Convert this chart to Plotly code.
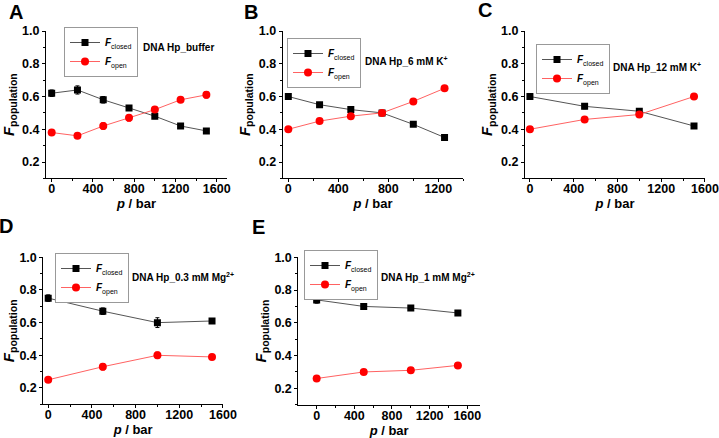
import plotly.graph_objects as go

W, H = 719, 438

# ---------------- data ----------------
p_A = [0, 250, 500, 750, 1000, 1250, 1500]
closed_A = [0.62, 0.64, 0.58, 0.53, 0.48, 0.42, 0.39]
closed_A_err = [0.02, 0.025, 0.02, 0.015, 0.015, 0.01, 0.01]
open_A = [0.38, 0.36, 0.42, 0.47, 0.52, 0.58, 0.61]
open_A_err = [0.01, 0.015, 0.02, 0.02, 0.015, 0.015, 0.02]

p_B = [0, 250, 500, 750, 1000, 1250]
closed_B = [0.60, 0.55, 0.52, 0.50, 0.43, 0.35]
closed_B_err = [0.005, 0.005, 0.005, 0.005, 0.005, 0.005]
open_B = [0.40, 0.45, 0.48, 0.50, 0.57, 0.65]
open_B_err = [0.005, 0.005, 0.005, 0.005, 0.005, 0.005]

p_C = [0, 500, 1000, 1500]
closed_C = [0.60, 0.54, 0.51, 0.42]
closed_C_err = [0.015, 0.015, 0.015, 0.01]
open_C = [0.40, 0.46, 0.49, 0.60]
open_C_err = [0.01, 0.01, 0.01, 0.015]

p_D = [0, 500, 1000, 1500]
closed_D = [0.75, 0.67, 0.60, 0.61]
closed_D_err = [0.02, 0.02, 0.03, 0.015]
open_D = [0.25, 0.33, 0.40, 0.39]
open_D_err = [0.01, 0.02, 0.02, 0.015]

p_E = [0, 500, 1000, 1500]
closed_E = [0.74, 0.70, 0.69, 0.66]
closed_E_err = [0.02, 0.015, 0.015, 0.015]
open_E = [0.26, 0.30, 0.31, 0.34]
open_E_err = [0.01, 0.015, 0.01, 0.015]

panel_letters = ["A", "B", "C", "D", "E"]
panel_titles = ["DNA Hp_buffer", "DNA Hp_6 mM K<sup>+</sup>", "DNA Hp_12 mM K<sup>+</sup>",
                "DNA Hp_0.3 mM Mg<sup>2+</sup>", "DNA Hp_1 mM Mg<sup>2+</sup>"]
closed_name = "<b><i>F</i></b><sub>closed</sub>"
open_name = "<b><i>F</i></b><sub>open</sub>"
x_title = "<b><i>p</i> / bar</b>"
y_title = "<b><i>F</i></b><sub><b>population</b></sub>"

panels = [
    (p_A, closed_A, closed_A_err, open_A, open_A_err),
    (p_B, closed_B, closed_B_err, open_B, open_B_err),
    (p_C, closed_C, closed_C_err, open_C, open_C_err),
    (p_D, closed_D, closed_D_err, open_D, open_D_err),
    (p_E, closed_E, closed_E_err, open_E, open_E_err),
]

# ---------------- layout geometry (pixels) ----------------
# (x_left, x_right, y_top, y_bottom, xrange)
geom = [
    (46, 227, 31, 178.4, [-55, 1700]),
    (282.7, 463.3, 31, 178.4, [-45, 1400]),
    (525, 705, 31, 178.4, [-45, 1600.5]),
    (43.3, 223, 257.3, 404.3, [-45, 1600.5]),
    (298.3, 480, 257.3, 404.7, [-195, 1735]),
]
# legend (anchor x, anchor side, top y)
leg_pos = [(138, "right", 27), (287, "left", 38), (536, "left", 44), (55, "left", 253), (304, "left", 250)]
# title text (left x, center y)
txt_pos = [(141, 47), (363, 61), (611, 67), (130, 277), (379, 277)]
letter_pos = [(16, 12), (251, 12), (485, 10), (6, 226), (258, 227)]

FONT = "Liberation Sans, Arial, sans-serif"

def px(x):
    return x / W

def py(y):
    return 1 - y / H

fig = go.Figure()
layout = dict(
    width=W, height=H, autosize=False,
    margin=dict(l=0, r=0, t=0, b=0, autoexpand=False),
    paper_bgcolor="white", plot_bgcolor="white",
    font=dict(family=FONT, color="black"),
    annotations=[],
)

for i, (p, c, ce, o, oe) in enumerate(panels):
    n = i + 1
    xa = "x" if n == 1 else f"x{n}"
    ya = "y" if n == 1 else f"y{n}"
    lg = "legend" if n == 1 else f"legend{n}"
    fig.add_trace(go.Scatter(
        x=p, y=c, xaxis=xa, yaxis=ya, mode="lines+markers", name=closed_name,
        legend=lg, showlegend=True,
        line=dict(color="#555555", width=1),
        marker=dict(symbol="square", size=7, color="black"),
        error_y=dict(type="data", array=ce, visible=True, color="black", thickness=1, width=2),
    ))
    fig.add_trace(go.Scatter(
        x=p, y=o, xaxis=xa, yaxis=ya, mode="lines+markers", name=open_name,
        legend=lg, showlegend=True,
        line=dict(color="#ff6262", width=1),
        marker=dict(symbol="circle", size=8, color="red"),
        error_y=dict(type="data", array=oe, visible=True, color="red", thickness=1, width=2),
    ))
    xl, xr, yt, yb, xrng = geom[i]
    xkey = "xaxis" if n == 1 else f"xaxis{n}"
    ykey = "yaxis" if n == 1 else f"yaxis{n}"
    layout[xkey] = dict(
        domain=[px(xl), px(xr)], anchor=ya, range=xrng, automargin=False,
        showline=True, linecolor="black", linewidth=1, mirror=False,
        showgrid=False, zeroline=False,
        ticks="outside", ticklen=3, tickwidth=1, tickcolor="black",
        tick0=0, dtick=400, ticklabelstandoff=-4, ticklabeloverflow="allow",
        minor=dict(ticks="outside", ticklen=2, tickwidth=1, tickcolor="black", dtick=200, tick0=0),
        tickfont=dict(family=FONT, size=12.5, color="black", weight="bold"),
        title=dict(text=x_title, font=dict(family=FONT, size=13, color="black"), standoff=0),
    )
    layout[ykey] = dict(
        domain=[py(yb), py(yt)], anchor=xa, range=[0.1, 1.0], automargin=False,
        showline=True, linecolor="black", linewidth=1, mirror=False,
        showgrid=False, zeroline=False,
        ticks="outside", ticklen=3, tickwidth=1, tickcolor="black",
        tick0=0.2, dtick=0.2, tickformat=".1f",
        minor=dict(ticks="outside", ticklen=2, tickwidth=1, tickcolor="black", dtick=0.1, tick0=0.1),
        tickfont=dict(family=FONT, size=12.5, color="black", weight="bold"),
        title=dict(text=y_title, font=dict(family=FONT, size=15, color="black"), standoff=4),
    )
    lx, lside, ltop = leg_pos[i]
    layout[lg] = dict(
        x=px(lx), y=py(ltop), xref="paper", yref="paper",
        xanchor=lside, yanchor="top",
        bgcolor="white", bordercolor="#999999", borderwidth=1,
        font=dict(family=FONT, size=10, color="black"),
        tracegroupgap=0, itemwidth=30,
    )
    tx, ty = txt_pos[i]
    layout["annotations"].append(dict(
        x=px(tx), y=py(ty), xref="paper", yref="paper", xanchor="left", yanchor="middle",
        text=f"<b>{panel_titles[i]}</b>", showarrow=False,
        font=dict(family=FONT, size=10, color="black"),
    ))
    lxp, lyp = letter_pos[i]
    layout["annotations"].append(dict(
        x=px(lxp), y=py(lyp), xref="paper", yref="paper", xanchor="center", yanchor="middle",
        text=f"<b>{panel_letters[i]}</b>", showarrow=False,
        font=dict(family=FONT, size=20, color="black"),
    ))

fig.update_layout(**layout)
fig.write_html(
    "out.html",
    config={"displayModeBar": False},
    post_script="document.body.style.margin='0px';document.body.style.padding='0px';",
)
